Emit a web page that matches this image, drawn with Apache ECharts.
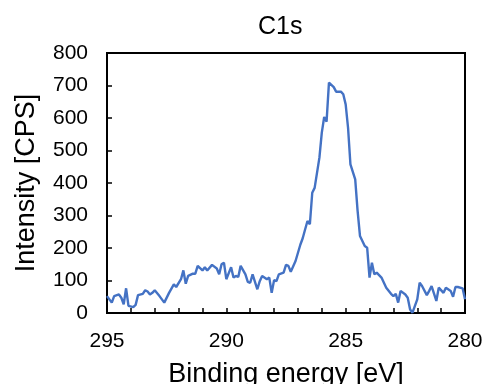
<!DOCTYPE html>
<html>
<head>
<meta charset="utf-8">
<script src="https://cdn.jsdelivr.net/npm/echarts@6/dist/echarts.min.js"></script>
<style>
html,body{margin:0;padding:0;background:#fff;}
#chart{width:483px;height:384px;}
</style>
</head>
<body>
<div id="chart"></div>
<script>
// binding energy (eV) and counts
var energies = [
  295.0, 294.8, 294.7, 294.5, 294.4, 294.3, 294.2, 294.1, 293.9, 293.8,
  293.7, 293.5, 293.4, 293.3, 293.2, 293.1, 293.0, 292.8, 292.6, 292.4,
  292.2, 292.1, 291.9, 291.8, 291.7, 291.6, 291.4, 291.3, 291.2, 291.0,
  290.9, 290.8, 290.6, 290.4, 290.3, 290.2, 290.1, 290.0, 289.8, 289.7,
  289.6, 289.5, 289.4, 289.2, 289.1, 289.0, 288.9, 288.7, 288.6, 288.5,
  288.3, 288.2, 288.1, 288.0, 287.9, 287.8, 287.6, 287.5, 287.4, 287.3,
  287.1, 286.9, 286.8, 286.7, 286.6, 286.5, 286.4, 286.3, 286.1, 286.0,
  285.9, 285.8, 285.7, 285.5, 285.4, 285.2, 285.1, 285.0, 284.9, 284.8,
  284.6, 284.5, 284.4, 284.2, 284.1, 284.0, 283.9, 283.8, 283.7, 283.5,
  283.3, 283.1, 283.0, 282.9, 282.8, 282.7, 282.5, 282.4, 282.3, 282.2,
  282.0, 281.9, 281.8, 281.6, 281.5, 281.4, 281.2, 281.1, 280.9, 280.8,
  280.6, 280.5, 280.4, 280.3, 280.1, 280.0
];
var counts = [
  52, 32, 52, 57, 47, 27, 76, 22, 18, 25,
  55, 59, 70, 66, 57, 62, 70, 52, 32, 62,
  88, 80, 104, 131, 90, 114, 121, 121, 145, 131,
  141, 131, 148, 137, 119, 150, 155, 104, 141, 109,
  114, 111, 145, 119, 96, 93, 119, 73, 98, 114,
  104, 109, 62, 101, 98, 119, 124, 148, 145, 127,
  160, 210, 230, 257, 283, 273, 370, 385, 478, 555,
  603, 589, 709, 695, 681, 681, 673, 642, 570, 457,
  411, 314, 237, 206, 201, 109, 155, 119, 124, 109,
  78, 59, 52, 59, 32, 68, 57, 47, 11, 1,
  42, 93, 83, 55, 68, 83, 37, 78, 62, 78,
  68, 50, 80, 80, 76, 42
];

var chart = echarts.init(document.getElementById('chart'));
var font = '"Liberation Sans", Arial, sans-serif';

var points = [];
for (var i = 0; i < energies.length; i++) {
  points.push([energies[i], counts[i]]);
}

var option = {
  animation: false,
  backgroundColor: '#fff',
  title: {
    text: 'C1s',
    left: 253,
    top: 10,
    textStyle: { color: '#000', fontSize: 25, fontWeight: 'normal', fontFamily: font }
  },
  grid: {
    left: 107,
    right: 18,
    top: 53,
    bottom: 71,
    outerBoundsMode: 'none',
    show: true,
    borderColor: '#000',
    borderWidth: 2
  },
  xAxis: {
    type: 'value',
    min: 280,
    max: 295,
    interval: 1,
    inverse: true,
    name: 'Binding energy [eV]',
    nameLocation: 'middle',
    nameGap: 48,
    nameTextStyle: { color: '#000', fontSize: 27, fontFamily: font },
    axisLine: { lineStyle: { color: '#000', width: 2 } },
    axisTick: { inside: true, length: 5, lineStyle: { color: '#000', width: 1.5 } },
    axisLabel: {
      margin: 18,
      color: '#000',
      fontSize: 21,
      fontFamily: font,
      formatter: function (v) { return v % 5 === 0 ? String(v) : ''; }
    },
    splitLine: { show: false }
  },
  yAxis: {
    type: 'value',
    min: 0,
    max: 800,
    interval: 100,
    name: 'Intensity [CPS]',
    nameLocation: 'middle',
    nameGap: 67,
    nameTextStyle: { color: '#000', fontSize: 27, fontFamily: font },
    axisLine: { show: true, lineStyle: { color: '#000', width: 2 } },
    axisTick: { show: true, inside: true, length: 5, lineStyle: { color: '#000', width: 1.5 } },
    axisLabel: { margin: 19, color: '#000', fontSize: 21, fontFamily: font },
    splitLine: { show: false }
  },
  series: [
    {
      name: 'C1s',
      type: 'line',
      data: points,
      showSymbol: false,
      lineStyle: { color: '#4472C4', width: 2.4 }
    }
  ]
};
chart.setOption(option);
</script>
</body>
</html>
